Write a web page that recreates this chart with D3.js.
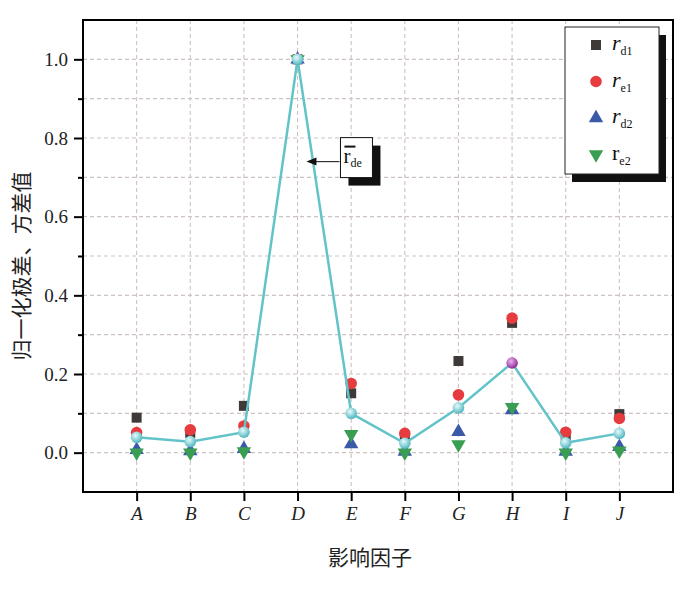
<!DOCTYPE html>
<html><head><meta charset="utf-8">
<script src="https://cdn.jsdelivr.net/npm/d3@7"></script>
<style>body{margin:0;background:#fff}svg{display:block}.serif{font-family:'Liberation Serif','DejaVu Serif',serif}</style>
</head><body>
<script>
const categories = ['A','B','C','D','E','F','G','H','I','J'];
const rd1 = [0.089,0.050,0.119,1.0,0.151,0.040,0.233,0.330,0.040,0.098];
const re1 = [0.051,0.058,0.068,1.0,0.176,0.049,0.147,0.342,0.052,0.087];
const rd2 = [0.007,0.004,0.010,1.0,0.022,0.003,0.053,0.108,0.003,0.015];
const re2 = [0.000,0.000,0.003,1.0,0.047,0.000,0.021,0.116,0.000,0.005];
const rde = [0.039,0.028,0.052,1.0,0.100,0.024,0.114,0.228,0.025,0.049];
const yMajorTicks = [0.0,0.2,0.4,0.6,0.8,1.0];
const yMinorTicks = [0.1,0.3,0.5,0.7,0.9];
const gridValues = [0,0.1,0.2,0.3,0.4,0.5,0.6,0.7,0.8,0.9,1.0];

const W=700,H=591;
const L=83,R=673,T=20,B=492;
const svg=d3.select('body').append('svg').attr('width',W).attr('height',H);
const defs=svg.append('defs');
function grad(id,c0,c1){
  const g=defs.append('radialGradient').attr('id',id).attr('cx','40%').attr('cy','35%').attr('r','65%');
  g.append('stop').attr('offset','0%').attr('stop-color',c0);
  g.append('stop').attr('offset','100%').attr('stop-color',c1);
}
grad('gc','#e6fbfc','#4fb6bf');
grad('gp','#f0b0f0','#8a2a92');

const x=d3.scaleLinear().domain([0,categories.length+1]).range([L,R]);
const xi=i=>x(i+1);
const y=d3.scaleLinear().domain([-0.1,1.1]).range([B,T]);

const cjk="'Noto Sans CJK SC',sans-serif";

// grid
const grid=svg.append('g').attr('stroke','#cdc2c2').attr('stroke-width',1.1).attr('stroke-dasharray','4,3');
grid.selectAll('.h').data(gridValues).join('line').attr('x1',L).attr('x2',R).attr('y1',d=>y(d)).attr('y2',d=>y(d));
grid.selectAll('.v').data(categories).join('line').attr('x1',(d,i)=>xi(i)).attr('x2',(d,i)=>xi(i)).attr('y1',T).attr('y2',B);

// axes
const yAxis=d3.axisLeft(y).tickValues(yMajorTicks).tickFormat(d3.format('.1f')).tickSize(9).tickPadding(6);
const gy=svg.append('g').attr('transform',`translate(${L},0)`).call(yAxis);
gy.attr('font-family',null).attr('font-size',null);
gy.select('.domain').remove();
gy.selectAll('line').attr('stroke','#000').attr('stroke-width',2);
gy.selectAll('text').attr('class','serif').style('font-size','19px').attr('fill','#222');
const yMinor=d3.axisLeft(y).tickValues(yMinorTicks).tickFormat('').tickSize(5);
const gym=svg.append('g').attr('transform',`translate(${L},0)`).call(yMinor);
gym.select('.domain').remove();
gym.selectAll('line').attr('stroke','#000').attr('stroke-width',2);

const xAxis=d3.axisBottom(d3.scalePoint().domain(categories).range([xi(0),xi(categories.length-1)])).tickSize(9).tickPadding(6);
const gx=svg.append('g').attr('transform',`translate(0,${B})`).call(xAxis);
gx.attr('font-family',null).attr('font-size',null);
gx.select('.domain').remove();
gx.selectAll('line').attr('stroke','#000').attr('stroke-width',2);
gx.selectAll('text').attr('class','serif').style('font-size','19px').style('font-style','italic').attr('fill','#222');

// frame
svg.append('rect').attr('x',L).attr('y',T).attr('width',R-L).attr('height',B-T).attr('fill','none').attr('stroke','#000').attr('stroke-width',2);

// titles
svg.append('text').attr('x',(L+R)/2-8).attr('y',565).attr('text-anchor','middle').style('font-family',cjk).style('font-size','21px').attr('fill','#222').text('影响因子');
svg.append('text').attr('transform',`translate(29,${(T+B)/2+10}) rotate(-90)`).attr('text-anchor','middle').style('font-family',cjk).style('font-size','21px').attr('fill','#222').text('归一化极差、方差值');

// markers
const colors={rd1:'#3f3a38',re1:'#e63b3f',rd2:'#3a5aa8',re2:'#3a9e52'};
const sq=d3.symbol().type(d3.symbolSquare).size(100);
const ci=d3.symbol().type(d3.symbolCircle).size(105);
const tu=d3.symbol().type(d3.symbolTriangle).size(90);
const g=svg.append('g');
g.selectAll('.sq').data(rd1).join('path').attr('d',sq).attr('transform',(d,i)=>`translate(${xi(i)},${y(d)})`).attr('fill',colors.rd1);
g.selectAll('.ci').data(re1).join('path').attr('d',ci).attr('transform',(d,i)=>`translate(${xi(i)},${y(d)})`).attr('fill',colors.re1);
g.selectAll('.tu').data(rd2).join('path').attr('d',tu).attr('transform',(d,i)=>`translate(${xi(i)},${y(d)})`).attr('fill',colors.rd2);
g.selectAll('.td').data(re2).join('path').attr('d',tu).attr('transform',(d,i)=>`translate(${xi(i)},${y(d)}) rotate(180)`).attr('fill',colors.re2);

// mean line
const line=d3.line().x((d,i)=>xi(i)).y(d=>y(d));
svg.append('path').datum(rde).attr('d',line).attr('fill','none').attr('stroke','#62c3c8').attr('stroke-width',2.5);
const maxI=d3.maxIndex(rde.map((d,i)=>i===3?-1:d));
svg.selectAll('.sp').data(rde).join('circle').attr('cx',(d,i)=>xi(i)).attr('cy',d=>y(d)).attr('r',5.8)
  .attr('fill',(d,i)=>i===maxI?'url(#gp)':'url(#gc)');

// annotation
const ax=x(4.8), ay=y(0.74);
svg.append('rect').attr('x',ax+8).attr('y',ay-16).attr('width',32).attr('height',40).attr('fill','#111');
svg.append('rect').attr('x',ax).attr('y',ay-24).attr('width',32).attr('height',40).attr('fill','#fff').attr('stroke','#111').attr('stroke-width',1);
svg.append('line').attr('x1',ax+4).attr('x2',ax+15).attr('y1',ay-15).attr('y2',ay-15).attr('stroke','#111').attr('stroke-width',2);
const at=svg.append('text').attr('x',ax+3).attr('y',ay+1).attr('class','serif').style('font-size','21px').attr('fill','#111');
at.append('tspan').text('r');
at.append('tspan').attr('dy',4).style('font-size','12px').text('de');
svg.append('line').attr('x1',ax-1).attr('x2',ax-28).attr('y1',ay).attr('y2',ay).attr('stroke','#333').attr('stroke-width',1.2);
svg.append('path').attr('d',`M${ax-34},${ay} L${ax-24},${ay-4} L${ax-24},${ay+4} Z`).attr('fill','#111');

// legend
const lx=565, ly=27, lw=94, lh=147;
svg.append('rect').attr('x',lx+7).attr('y',ly+8).attr('width',lw).attr('height',lh).attr('fill','#111');
svg.append('rect').attr('x',lx).attr('y',ly).attr('width',lw).attr('height',lh).attr('fill','#fff').attr('stroke','#222').attr('stroke-width',1);
const legendItems=[
  {sym:sq,c:colors.rd1,sub:'d1',it:true,rot:0},
  {sym:ci,c:colors.re1,sub:'e1',it:true,rot:0},
  {sym:tu,c:colors.rd2,sub:'d2',it:true,rot:0},
  {sym:tu,c:colors.re2,sub:'e2',it:false,rot:180}
];
const lg=svg.append('g');
legendItems.forEach((d,i)=>{
  const cy=ly+18+i*36.5;
  lg.append('path').attr('d',d.sym).attr('transform',`translate(${lx+31},${cy}) rotate(${d.rot})`).attr('fill',d.c);
  const t=lg.append('text').attr('x',lx+47).attr('y',cy+5).attr('class','serif').style('font-size','22px').attr('fill','#111');
  t.append('tspan').style('font-style',d.it?'italic':'normal').text('r');
  t.append('tspan').attr('dy',5).style('font-size','12px').text(d.sub);
});
</script>
</body></html>
